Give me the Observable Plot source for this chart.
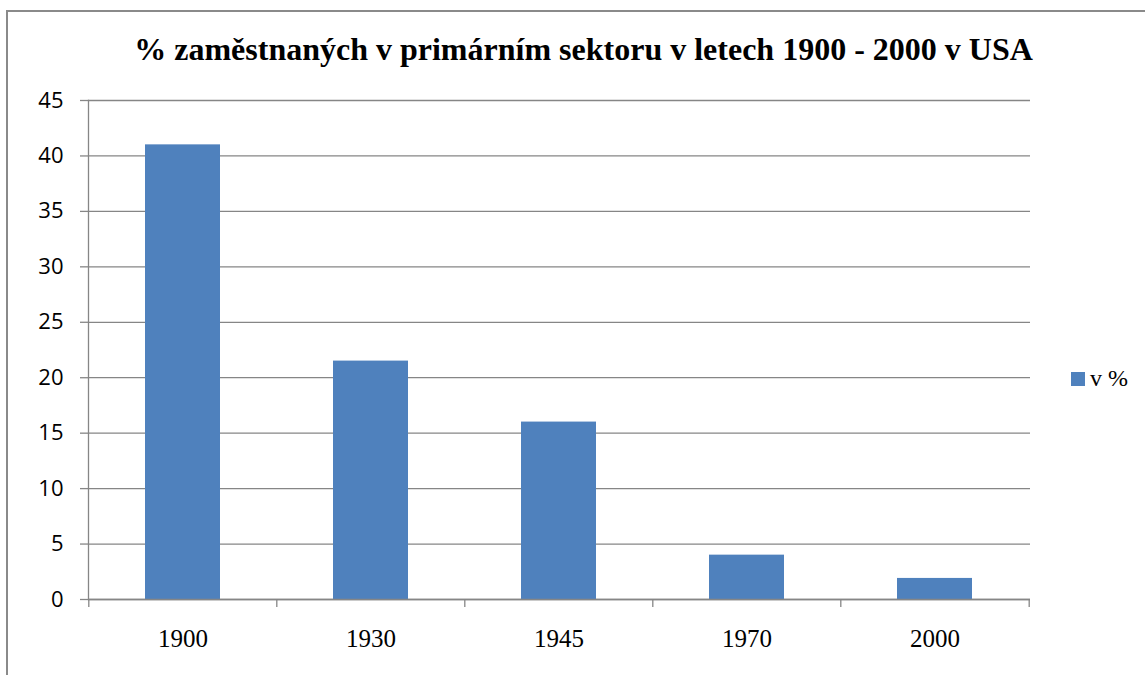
<!DOCTYPE html>
<html>
<head>
<meta charset="utf-8">
<script src="https://cdn.jsdelivr.net/npm/d3@7"></script>
<script src="https://cdn.jsdelivr.net/npm/@observablehq/plot@0.6"></script>
<style>
  html, body { margin: 0; padding: 0; background: #fff; }
  #wrap { position: relative; width: 1145px; height: 675px; overflow: hidden; }
  #border { position: absolute; left: 6px; top: 10px; width: 1300px; height: 800px;
            border-left: 2px solid #8a8a8a; border-top: 2px solid #8a8a8a; box-sizing: border-box; }
  #title { position: absolute; left: 0; width: 1167px; top: 33px; text-align: center;
           font-family: "Liberation Serif", "Times New Roman", serif; font-weight: bold;
           font-size: 32px; line-height: 32px; color: #000; white-space: nowrap; }
  #legend { position: absolute; left: 1071px; top: 366px; font-family: "Liberation Serif", serif;
            font-size: 24px; line-height: 24px; color: #000; white-space: nowrap; }
  #legend .sw { display: inline-block; width: 14px; height: 14px; margin-right: 5px; vertical-align: 0px; }
  #chart { position: absolute; left: 0; top: 0; }
</style>
</head>
<body>
<div id="wrap">
  <div id="border"></div>
  <div id="chart"></div>
  <div id="title"></div>
  <div id="legend"></div>
</div>
<script>
const titleText = "% zaměstnaných v primárním sektoru v letech 1900 - 2000 v USA";
const years = ["1900", "1930", "1945", "1970", "2000"];
const values = [41, 21.5, 16, 4, 1.9];
const yTicks = [0, 5, 10, 15, 20, 25, 30, 35, 40, 45];
const seriesName = "v %";
const barColor = "#4F81BD";
const gridColor = "#868686";

const W = 1145, H = 675, mL = 88, mR = 115, mT = 100, mB = 76;
const step = (W - mL - mR) / years.length;
const data = years.map((y, i) => ({year: y, value: values[i]}));

const chart = Plot.plot({
  width: W,
  height: H,
  marginLeft: mL,
  marginRight: mR,
  marginTop: mT,
  marginBottom: mB,
  style: {background: "transparent", color: "#000", overflow: "visible"},
  x: {type: "band", domain: years, paddingInner: 0.6, paddingOuter: 0.3, axis: null},
  y: {domain: [0, 45], axis: null},
  marks: [
    Plot.gridY(yTicks, {stroke: gridColor, strokeOpacity: 1, strokeWidth: 1.3}),
    Plot.axisY(yTicks, {tickSize: 8, tickPadding: 17, stroke: gridColor, strokeWidth: 1.3, label: null,
      fontSize: 22, fontFamily: "Open Sans, Liberation Sans, sans-serif", tickFormat: d => String(d)}),
    Plot.frame({anchor: "left", stroke: gridColor, strokeWidth: 1.3}),
    Plot.barY(data, {x: "year", y: "value", fill: barColor}),
    Plot.ruleY([0], {stroke: gridColor, strokeWidth: 1.3}),
    Plot.axisX(years, {tickSize: 8, tickFormat: () => "", label: null, dx: -step / 2, stroke: gridColor, strokeWidth: 1.3}),
    Plot.axisX(years.slice(-1), {tickSize: 8, tickFormat: () => "", label: null, dx: step / 2, stroke: gridColor, strokeWidth: 1.3}),
    Plot.axisX(years, {tickSize: 0, tickPadding: 30, fontSize: 25, label: null,
      fontFamily: "Liberation Serif, Times New Roman, serif"})
  ]
});
document.getElementById("chart").appendChild(chart);
document.getElementById("title").textContent = titleText;
const lg = document.getElementById("legend");
const sw = document.createElement("span");
sw.className = "sw";
sw.style.background = barColor;
lg.appendChild(sw);
lg.appendChild(document.createTextNode(seriesName));
</script>
</body>
</html>
